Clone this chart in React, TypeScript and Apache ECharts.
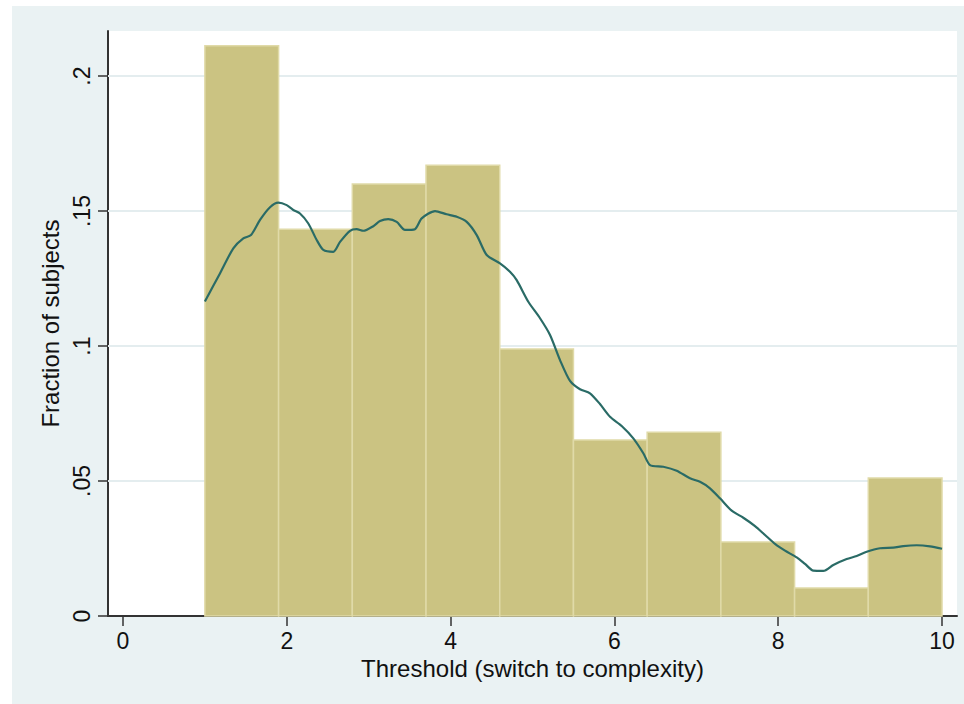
import { useEffect, useRef } from "react";
import * as echarts from "echarts";

// Histogram bins (bin edges) and the fraction of subjects in each bin
const binEdges = [1, 1.9, 2.8, 3.7, 4.6, 5.5, 6.4, 7.3, 8.2, 9.1, 10];
const fractions = [0.2112, 0.1433, 0.16, 0.167, 0.0989, 0.0652, 0.0681, 0.0274, 0.0104, 0.0511];

// Kernel density estimate overlaid on the histogram
const kdeX = [
  1.0, 1.184, 1.347, 1.469, 1.563, 1.673, 1.795, 1.896, 1.999, 2.079, 2.161, 2.263, 2.365, 2.446,
  2.568, 2.65, 2.772, 2.853, 2.934, 3.056, 3.138, 3.239, 3.342, 3.443, 3.565, 3.647, 3.81, 3.952,
  4.075, 4.197, 4.319, 4.441, 4.603, 4.725, 4.807, 4.949, 5.092, 5.214, 5.336, 5.458, 5.58, 5.702,
  5.824, 5.946, 6.089, 6.231, 6.353, 6.435, 6.597, 6.761, 6.923, 7.045, 7.167, 7.289, 7.432, 7.574,
  7.717, 7.839, 7.961, 8.083, 8.226, 8.327, 8.429, 8.551, 8.673, 8.836, 8.958, 9.081, 9.243, 9.405,
  9.527, 9.691, 9.853, 10.0,
];
const kdeY = [
  0.1165, 0.1269, 0.1362, 0.1399, 0.1411, 0.1467, 0.1514, 0.1531, 0.1522, 0.1504, 0.1491, 0.1454,
  0.1393, 0.1356, 0.1349, 0.1386, 0.1427, 0.1433, 0.1427, 0.1444, 0.1463, 0.147, 0.146, 0.143,
  0.1433, 0.1473, 0.15, 0.1488, 0.1479, 0.146, 0.1411, 0.1337, 0.1306, 0.1275, 0.1244, 0.1164,
  0.1103, 0.1041, 0.0948, 0.0871, 0.084, 0.0825, 0.0785, 0.0738, 0.0704, 0.0658, 0.0603, 0.0559,
  0.0553, 0.0538, 0.051, 0.0497, 0.0473, 0.0436, 0.039, 0.0364, 0.0333, 0.03, 0.0267, 0.0242,
  0.0217, 0.0193, 0.0168, 0.0167, 0.0189, 0.0211, 0.0222, 0.0238, 0.0251, 0.0253, 0.0259, 0.0262,
  0.0258, 0.0249,
];

const xTicks = [0, 2, 4, 6, 8, 10];
const yTicks = [0, 0.05, 0.1, 0.15, 0.2];
const yGridValues = [0.05, 0.1, 0.15, 0.2];

const FONT = "'Liberation Sans', Arial, Helvetica, sans-serif";
const AXIS_COLOR = "#333333";

function formatFraction(v: number): string {
  if (v === 0) return "0";
  return String(+v.toFixed(3)).replace(/^0\./, ".");
}

export default function App() {
  const ref = useRef<HTMLDivElement>(null);

  useEffect(() => {
    if (!ref.current) return;
    const chart = echarts.init(ref.current, null, { renderer: "svg" });

    const bins = fractions.map((f, i) => [binEdges[i], binEdges[i + 1], f]);
    const kde = kdeX.map((x, i) => [x, kdeY[i]]);

    chart.setOption({
      animation: false,
      backgroundColor: "#ffffff",
      graphic: [
        {
          type: "rect",
          z: -10,
          silent: true,
          shape: { x: 12, y: 6, width: 952, height: 698 },
          style: { fill: "#eaf2f3" },
        },
      ],
      grid: {
        left: 108,
        right: 7,
        top: 31,
        bottom: 88,
        show: true,
        backgroundColor: "#ffffff",
        borderWidth: 0,
      },
      xAxis: {
        type: "value",
        min: -0.183,
        max: 10.183,
        name: "Threshold (switch to complexity)",
        nameLocation: "middle",
        nameGap: 38,
        nameTextStyle: { fontFamily: FONT, fontSize: 24, color: "#111" },
        axisLine: { show: true, onZero: false, lineStyle: { color: AXIS_COLOR, width: 2 } },
        axisTick: {
          show: true,
          length: 10,
          customValues: xTicks,
          lineStyle: { color: AXIS_COLOR, width: 1.5 },
        },
        axisLabel: {
          customValues: xTicks,
          margin: 13,
          fontFamily: FONT,
          fontSize: 23,
          color: "#111",
        },
        splitLine: { show: false },
      },
      yAxis: {
        type: "value",
        min: 0,
        max: 0.2167,
        name: "Fraction of subjects",
        nameLocation: "middle",
        nameGap: 41,
        nameRotate: 90,
        nameTextStyle: { fontFamily: FONT, fontSize: 24, color: "#111" },
        axisLine: { show: true, onZero: false, lineStyle: { color: AXIS_COLOR, width: 2 } },
        axisTick: {
          show: true,
          length: 10,
          customValues: yTicks,
          lineStyle: { color: AXIS_COLOR, width: 1.5 },
        },
        axisLabel: {
          customValues: yTicks,
          rotate: 90,
          margin: 15,
          fontFamily: FONT,
          fontSize: 23,
          color: "#111",
          formatter: (v: number) => formatFraction(v),
        },
        splitLine: { show: false },
      },
      series: [
        {
          type: "line",
          z: 1,
          silent: true,
          data: [],
          markLine: {
            z: 1,
            silent: true,
            symbol: "none",
            label: { show: false },
            lineStyle: { color: "#e4edef", width: 2, type: "solid" },
            data: yGridValues.map((v) => ({ yAxis: v })),
          },
        },
        {
          type: "custom",
          z: 2,
          data: bins,
          encode: { x: [0, 1], y: 2 },
          renderItem: (_params: any, api: any) => {
            const x0 = api.value(0);
            const x1 = api.value(1);
            const h = api.value(2);
            const topLeft = api.coord([x0, h]);
            const bottomRight = api.coord([x1, 0]);
            return {
              type: "rect",
              shape: {
                x: topLeft[0],
                y: topLeft[1],
                width: bottomRight[0] - topLeft[0],
                height: bottomRight[1] - topLeft[1],
              },
              style: { fill: "#cbc382", stroke: "#e0daa8", lineWidth: 1.5 },
            };
          },
        },
        {
          type: "line",
          z: 3,
          data: kde,
          showSymbol: false,
          smooth: 0.25,
          lineStyle: { color: "#2a6b66", width: 2.2 },
        },
      ],
    });

    return () => chart.dispose();
  }, []);

  return (
    <div
      ref={ref}
      style={{ position: "fixed", left: 0, top: 0, width: 964, height: 704 }}
    />
  );
}
